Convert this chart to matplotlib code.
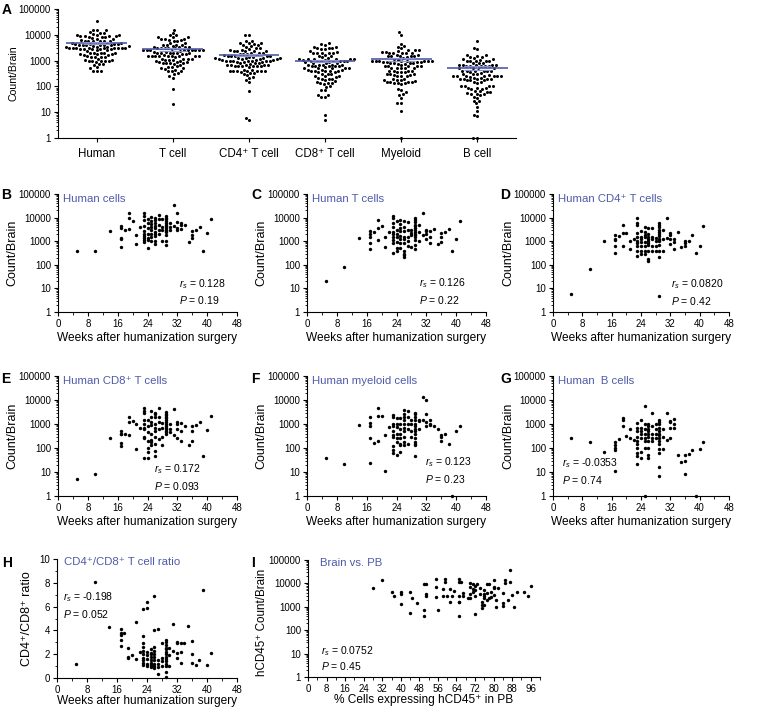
import numpy as np
import matplotlib.pyplot as plt
from matplotlib.ticker import LogLocator, NullFormatter, FuncFormatter, MultipleLocator

plt.rcParams['font.family'] = ['Liberation Sans', 'DejaVu Sans']
plt.rcParams['mathtext.fontset'] = 'custom'
plt.rcParams['mathtext.rm'] = 'Liberation Sans'
plt.rcParams['mathtext.it'] = 'Liberation Sans:italic'
plt.rcParams['mathtext.bf'] = 'Liberation Sans:bold'

# weeks after humanization surgery, one entry per mouse
weeks = [5, 10, 14, 17, 17, 17, 17, 17, 18, 19, 19, 19, 20, 21, 21, 22,
         23, 23, 23, 23, 23, 23, 23, 23, 23, 23,
         24, 24, 24, 24, 24, 24, 24,
         25, 25, 25, 25, 25, 25, 25, 25,
         26, 26, 26, 26, 26, 26, 26, 26, 26, 26,
         27, 27, 27, 27, 27,
         28, 28, 28, 28,
         29, 29, 29, 29, 29, 29, 29, 29, 29, 29, 29, 29, 29, 29,
         30, 30, 30, 31, 31, 32, 32, 32, 32, 33, 33, 33,
         34, 35, 36, 36, 36, 37, 38, 39, 40, 41]

human = [400, 400, 2800, 4500, 3800, 1400, 1200, 590, 3000, 15000, 10000, 3200, 7500, 1800, 750, 4000,
         15000, 12000, 8000, 4500, 2800, 2000, 1600, 1400, 1100, 900,
         9000, 6000, 3500, 2000, 1400, 1100, 500,
         11000, 7000, 5500, 4000, 3000, 2000, 1500, 1000,
         10000, 8000, 6000, 4500, 3500, 2500, 2000, 1600, 1000, 750,
         13000, 9000, 5000, 3000, 2000,
         9000, 4000, 3000, 1000,
         12000, 10000, 8500, 7000, 6000, 5000, 4200, 3600, 3000, 2700, 2500, 1800, 1000, 700,
         6000, 4000, 3000, 35000, 4500, 16000, 6500, 3500, 2900, 6000, 5000, 3200,
         5000, 950, 2800, 1400, 1800, 3000, 4000, 400, 2300, 9000]

tcell = [20, 80, 1400, 2600, 2000, 1500, 850, 480, 2400, 8000, 3800, 1100, 4200, 560, 1500, 2500,
         12000, 10000, 6000, 4000, 2500, 2000, 1500, 1100, 800, 330,
         7000, 3000, 2000, 1500, 900, 500, 380,
         8000, 5500, 3500, 2600, 1600, 1200, 800, 500,
         7000, 4000, 2600, 1500, 1200, 800, 400, 300, 250, 220,
         6500, 3000, 1500, 1000, 600,
         3000, 2200, 1800, 560,
         9500, 8000, 6500, 5000, 4200, 3500, 3000, 2500, 2000, 1800, 1500, 1100, 700, 450,
         4800, 2500, 1000, 16000, 1900, 3000, 2600, 2000, 1200, 2700, 1500, 800,
         3400, 750, 2200, 1500, 900, 2500, 3300, 400, 1200, 7000]

cd4 = [6, 65, 1050, 1800, 1300, 1100, 650, 330, 1600, 5000, 2300, 600, 2300, 1000, 450, 1200,
       9500, 6000, 5000, 2300, 1500, 1000, 800, 600, 400, 230,
       2800, 1500, 1200, 900, 600, 370, 280,
       4000, 2500, 1800, 1500, 900, 600, 400, 300,
       3500, 2000, 1500, 1300, 1000, 800, 700, 400, 170, 150,
       3700, 1500, 1200, 600, 400,
       1400, 1000, 600, 380,
       6000, 5000, 4000, 3000, 2500, 2000, 1600, 1300, 1100, 1000, 700, 400, 210, 5,
       3000, 1300, 400, 10000, 1400, 2300, 1900, 1200, 750, 1300, 900, 450,
       2400, 550, 1000, 800, 650, 1000, 1800, 330, 650, 4500]

cd8 = [5, 8, 250, 500, 400, 380, 160, 120, 400, 2000, 1200, 350, 1300, 1000, 95, 700,
       4500, 3500, 3000, 1500, 1000, 700, 600, 300, 250, 40,
       1500, 800, 450, 200, 100, 70, 40,
       3500, 2000, 1200, 900, 400, 220, 180, 130,
       3000, 2700, 2000, 1000, 700, 500, 300, 150, 75, 45,
       4700, 2000, 1200, 600, 230,
       1100, 700, 300, 130,
       3200, 2700, 2300, 2000, 1700, 1400, 1200, 1000, 850, 700, 600, 500, 450, 400,
       1000, 600, 450, 4200, 350, 1200, 1000, 600, 250, 1100, 500, 200,
       800, 130, 800, 500, 200, 950, 1200, 45, 550, 2200]

myeloid = [37, 22, 900, 2000, 1100, 800, 260, 23, 160, 4500, 2200, 200, 2200, 350, 11, 750,
           2300, 2000, 1000, 800, 500, 350, 300, 120, 80, 60,
           1700, 1000, 750, 400, 270, 180, 50,
           1700, 1000, 600, 400, 250, 150, 130, 70,
           3700, 2500, 2000, 1500, 1000, 700, 500, 300, 170, 130,
           3500, 2000, 1000, 600, 150,
           1500, 1000, 500, 300,
           3000, 2500, 2000, 1500, 1000, 800, 600, 500, 400, 250, 180, 150, 130, 48,
           1500, 1300, 600, 13000, 1500, 10000, 2500, 1200, 800, 1400, 1000, 900,
           850, 600, 350, 200, 280, 400, 150, 1, 520, 850]

bcell = [270, 170, 68, 170, 130, 100, 80, 11, 240, 1700, 1400, 800, 330, 600, 250, 220,
         1100, 700, 500, 300, 200, 150, 100, 60, 45, 22,
         1400, 700, 500, 400, 250, 65, 37,
         5500, 1000, 600, 400, 250, 200, 100, 1,
         1000, 800, 600, 500, 400, 300, 200, 100, 50, 40,
         2800, 800, 400, 250, 200,
         1000, 600, 400, 250,
         1500, 1200, 1000, 700, 500, 400, 350, 250, 200, 150, 90, 60, 16, 7,
         600, 300, 90, 3000, 210, 1300, 1200, 650, 250, 1600, 1000, 700,
         52, 27, 8, 28, 50, 55, 80, 1, 90, 170]

ratio = [1.2, 8.1, 4.3, 4.1, 3.8, 3.6, 3.2, 2.7, 3.8, 2.5, 1.8, 1.7, 1.9, 4.7, 1.6, 2.2,
         5.8, 3.5, 2.9, 2.6, 2.3, 2.0, 1.7, 1.5, 1.3, 1.1,
         6.4, 5.9, 2.2, 1.9, 1.6, 1.2, 1.0,
         2.4, 2.1, 2.0, 1.8, 1.5, 1.3, 1.1, 0.9,
         6.9, 4.0, 2.6, 2.3, 2.0, 1.8, 1.5, 1.2, 1.0, 0.8,
         4.1, 1.5, 1.2, 0.9, 0.3,
         2.9, 1.7, 1.4, 1.0,
         3.2, 3.0, 2.8, 2.5, 2.4, 2.2, 2.0, 1.8, 1.6, 1.4, 1.2, 1.0, 0.5, 0.05,
         2.5, 1.9, 1.0, 4.5, 2.3, 3.0, 2.9, 2.1, 1.7, 2.9, 2.2, 1.3,
         2.9, 4.4, 3.1, 2.0, 1.3, 1.1, 1.5, 7.4, 1.1, 2.1]

# panel I: % hCD45+ in peripheral blood vs brain count
pb_pct = [28, 32, 36, 37, 40, 40, 40, 44, 44, 45, 47, 50, 50, 50, 51, 51, 51, 55, 55, 55,
          56, 58, 58, 59, 59, 60, 61, 61, 62, 63, 65, 65, 65, 65, 65, 65, 66, 67, 67, 69,
          70, 70, 70, 70, 71, 71, 71, 72, 72, 72, 72, 73, 74, 74, 75, 75, 75, 76, 76, 76,
          76, 76, 77, 77, 77, 78, 78, 79, 79, 80, 80, 80, 80, 81, 81, 82, 84, 84, 84, 85,
          85, 86, 87, 87, 88, 89, 90, 93, 95, 96]
brain_count = [6100, 13500, 4400, 2800, 4400, 3400, 1300, 4400, 570, 2300, 1400, 9000, 720, 400,
               9000, 3400, 2800, 16000, 7000, 2700, 700, 5500, 2900, 15000, 11000, 2900, 5500,
               1600, 2900, 4800, 11000, 16000, 2800, 1600, 1600, 400, 11000, 4000, 2900, 2400,
               10500, 7300, 3400, 2400, 9000, 6000, 4400, 8000, 5200, 3000, 470, 9000, 6100,
               3400, 1600, 1200, 880, 5200, 3700, 2800, 2300, 1200, 9000, 4000, 2000, 9000,
               2400, 4400, 2700, 14000, 7300, 6100, 3200, 2000, 1000, 6100, 4000, 1400, 1100,
               10000, 14000, 2000, 37000, 11000, 3200, 1000, 4100, 4100, 2800, 8000]

SUP = '\u207a'
categories = ['Human', 'T cell', f'CD4{SUP} T cell', f'CD8{SUP} T cell', 'Myeloid', 'B cell']
stats = [('0.128', '0.19'), ('0.126', '0.22'), ('0.0820', '0.42'), ('0.172', '0.093'),
         ('0.123', '0.23'), ('-0.0353', '0.74')]
titles = ['Human cells', 'Human T cells', f'Human CD4{SUP} T cells', f'Human CD8{SUP} T cells',
          'Human myeloid cells', 'Human  B cells']

BLUE = '#4f5aa8'
W, H = 764, 712
fig = plt.figure(figsize=(7.64, 7.12), dpi=100)


def box(l, t, r, b):
    return [l / W, 1 - b / H, (r - l) / W, (b - t) / H]


def style(ax, log=True):
    for s in ['top', 'right']:
        ax.spines[s].set_visible(False)
    for s in ['left', 'bottom']:
        ax.spines[s].set_linewidth(0.8)
    ax.tick_params(which='major', length=3, width=0.8, labelsize=7, pad=2)
    ax.tick_params(which='minor', length=1.8, width=0.6)
    if log:
        ax.set_yscale('log')
        ax.set_ylim(1, 1e5)
        ax.yaxis.set_major_locator(LogLocator(base=10, numticks=10))
        ax.yaxis.set_minor_locator(LogLocator(base=10, subs=np.arange(2, 10), numticks=10))
        ax.yaxis.set_major_formatter(FuncFormatter(lambda v, p: f'{int(round(v))}'))
        ax.yaxis.set_minor_formatter(NullFormatter())


def swarm_offsets(vals, px_dec, px_cat, d=3.7):
    # simple beeswarm in pixel space, returns x offsets in category units
    y = np.log10(np.asarray(vals, dtype=float)) * px_dec
    order = np.argsort(y)
    placed_x, placed_y = [], []
    off = np.zeros(len(y))
    for i in order:
        cands = [0.0]
        for px, py in zip(placed_x, placed_y):
            dy = y[i] - py
            if abs(dy) < d:
                w = np.sqrt(d * d - dy * dy)
                cands += [px - w, px + w]
        cands = sorted(cands, key=abs)
        for c in cands:
            ok = all((c - px) ** 2 + (y[i] - py) ** 2 >= d * d - 1e-6
                     for px, py in zip(placed_x, placed_y))
            if ok:
                break
        placed_x.append(c)
        placed_y.append(y[i])
        off[i] = c / px_cat
    return off


# ---- panel A: dot plot of all populations
A_box = (58, 9, 516, 138)
axA = fig.add_axes(box(*A_box))
style(axA)
axA.tick_params(axis='x', labelsize=8.3, pad=4)
px_dec = (A_box[3] - A_box[1]) / 5.0
px_cat = (A_box[2] - A_box[0]) / 6.02
cell_data = [human, tcell, cd4, cd8, myeloid, bcell]
for i, vals in enumerate(cell_data):
    v = np.asarray(vals, dtype=float)
    axA.scatter(i + swarm_offsets(v, px_dec, px_cat), v, s=4.8, color='black', lw=0,
                clip_on=False, zorder=2)
    m = v.mean()
    sem = v.std(ddof=1) / np.sqrt(len(v))
    axA.hlines(m, i - 0.4, i + 0.4, color=BLUE, lw=1.2, zorder=3)
    axA.hlines([m - sem, m + sem], i - 0.18, i + 0.18, color='#8d96cf', lw=0.9, zorder=3)
    axA.vlines(i, m - sem, m + sem, color='#8d96cf', lw=0.9, zorder=3)
axA.set_xlim(-0.51, 5.51)
axA.set_xticks(range(len(categories)))
axA.set_xticklabels(categories)
axA.set_ylabel('Count/Brain', fontsize=7.6)
axA.yaxis.set_label_coords(-0.087, 0.5)

# ---- panels B-G: counts vs weeks
boxes = [(58, 194, 237, 312), (307, 194, 486, 312), (553, 194, 729, 312),
         (58, 376, 237, 496), (307, 376, 486, 496), (553, 376, 729, 496)]
stat_pos = [(0.677, 0.236), (0.627, 0.242), (0.668, 0.235),
            (0.534, 0.225), (0.659, 0.283), (0.05, 0.274)]
for k in range(6):
    ax = fig.add_axes(box(*boxes[k]))
    style(ax, log=True)
    ax.scatter(weeks, cell_data[k], s=6, color='black', lw=0, clip_on=False, zorder=2)
    ax.set_xlim(0, 48)
    ax.xaxis.set_major_locator(MultipleLocator(8))
    ax.xaxis.set_minor_locator(MultipleLocator(4))
    ax.set_xlabel('Weeks after humanization surgery', fontsize=8.6)
    ax.xaxis.set_label_coords(0.5, -0.17)
    ax.set_ylabel('Count/Brain', fontsize=9)
    ax.yaxis.set_label_coords(-0.22, 0.5)
    ax.text(0.03, 0.955, titles[k], color=BLUE, fontsize=8.2, va='center', transform=ax.transAxes)
    sx, sy = stat_pos[k]
    ax.text(sx, sy, r'$r_s$ = ' + stats[k][0], fontsize=7.5, va='center', transform=ax.transAxes)
    ax.text(sx, sy - 0.138, r'$P$ = ' + stats[k][1], fontsize=7.5, va='center', transform=ax.transAxes)

# ---- panel H: CD4/CD8 ratio
axH = fig.add_axes(box(57, 559, 237, 678))
style(axH, log=False)
axH.scatter(weeks, ratio, s=6, color='black', lw=0, clip_on=False, zorder=2)
axH.set_xlim(0, 48)
axH.set_ylim(0, 10)
axH.xaxis.set_major_locator(MultipleLocator(8))
axH.xaxis.set_minor_locator(MultipleLocator(4))
axH.yaxis.set_major_locator(MultipleLocator(2))
axH.yaxis.set_minor_locator(MultipleLocator(1))
axH.set_xlabel('Weeks after humanization surgery', fontsize=8.6)
axH.xaxis.set_label_coords(0.5, -0.145)
axH.set_ylabel(f'CD4{SUP}/CD8{SUP} ratio', fontsize=9)
axH.yaxis.set_label_coords(-0.133, 0.5)
axH.text(0.04, 0.975, f'CD4{SUP}/CD8{SUP} T cell ratio', color=BLUE, fontsize=8.2, va='center',
         transform=axH.transAxes)
axH.text(0.034, 0.678, r'$r_s$ = -0.198', fontsize=7.5, va='center', transform=axH.transAxes)
axH.text(0.034, 0.538, r'$P$ = 0.052', fontsize=7.5, va='center', transform=axH.transAxes)

# ---- panel I: brain vs PB
axI = fig.add_axes(box(308, 560, 540, 677))
style(axI, log=True)
axI.scatter(pb_pct, brain_count, s=6, color='black', lw=0, clip_on=False, zorder=2)
axI.set_xlim(0, 100)
axI.xaxis.set_major_locator(MultipleLocator(8))
axI.xaxis.set_minor_locator(MultipleLocator(4))
axI.set_xlabel(f'% Cells expressing hCD45{SUP} in PB', fontsize=8.6)
axI.xaxis.set_label_coords(0.5, -0.145)
axI.set_ylabel(f'hCD45{SUP} Count/Brain', fontsize=8.4)
axI.yaxis.set_label_coords(-0.172, 0.47)
axI.text(0.05, 0.975, 'Brain vs. PB', color=BLUE, fontsize=8.2, va='center', transform=axI.transAxes)
axI.text(0.055, 0.224, r'$r_s$ = 0.0752', fontsize=7.5, va='center', transform=axI.transAxes)
axI.text(0.055, 0.091, r'$P$ = 0.45', fontsize=7.5, va='center', transform=axI.transAxes)

# panel letters
letters = [('A', 2, 3), ('B', 1, 188), ('C', 251, 188), ('D', 500, 188),
           ('E', 1, 372), ('F', 251, 372), ('G', 500, 372), ('H', 2, 556), ('I', 251, 556)]
for lab, px, py in letters:
    fig.text(px / W, 1 - py / H, lab, fontsize=10, fontweight='bold', va='top', ha='left')

fig.savefig('out.png', dpi=100)
